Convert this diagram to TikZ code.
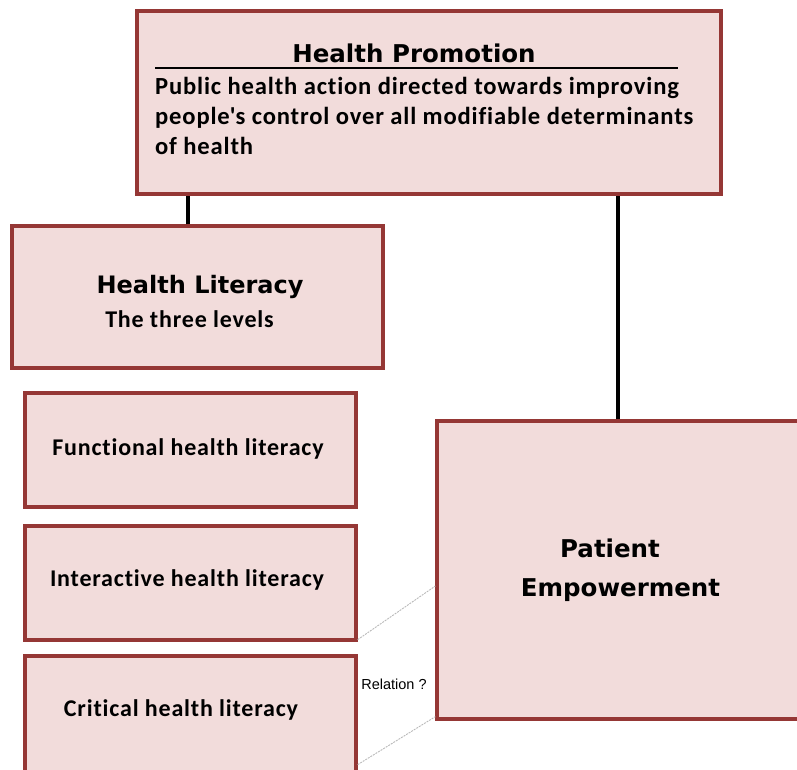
\documentclass[tikz,border=0pt]{standalone}
\usepackage{fontspec}
\setmainfont{Carlito}[LetterSpace=3.4,Ligatures={NoCommon,TeX}]
\newfontfamily\headfont{DejaVu Sans}
\newfontfamily\notefont{Liberation Sans}
\usetikzlibrary{positioning}
\definecolor{boxline}{RGB}{149,55,53}
\definecolor{boxfill}{RGB}{242,220,219}

\begin{document}
\begin{tikzpicture}[x=1pt,y=-1pt,
    every node/.style={inner sep=0pt},
    box/.style={draw=boxline,fill=boxfill,line width=3.3pt,rectangle},
    head/.style={font=\headfont\bfseries\fontsize{24.5}{30}\selectfont},
    body/.style={font=\bfseries\fontsize{24}{30}\selectfont},
    link/.style={line width=4pt,black},
    relation/.style={gray!55,line width=0.9pt,dash pattern=on 2pt off 1pt}]
    \useasboundingbox (0,0) rectangle (797,769);
    \clip (0,0) rectangle (797,769);

    % boxes
    \node[box,minimum width=584pt,minimum height=183pt] (hp) at (429,102.5) {};
    \node[box,minimum width=371pt,minimum height=142pt] (hl) at (197.5,297) {};
    \node[box,minimum width=331pt,minimum height=114pt] (fhl) at (190.5,450) {};
    \node[box,minimum width=331pt,minimum height=114pt] (ihl) at (190.5,583) {};
    \node[box,minimum width=331pt,minimum height=118pt] (chl) at (190.5,715) {};
    \node[box,minimum width=373pt,minimum height=298pt] (pe) at (623.5,570) {};

    % texts
    \node[head] (hptitle) at (414,53) {Health Promotion};
    \draw[line width=1.3pt] (155,68) -- (678,68);
    \node[body,font=\bfseries\fontsize{24.6}{30}\selectfont,align=left,anchor=north west] (hptext) at (155,77)
        {Public health action directed towards improving\\
         people\textquotesingle s control over all modifiable determinants\\
         of health};
    \node[head,font=\headfont\bfseries\fontsize{24}{30}\selectfont] (hltitle) at (200,287) {Health Literacy};
    \node[body] (hltext) at (189.5,319) {The three levels};
    \node[body] (fhltext) at (188,449) {Functional health literacy};
    \node[body] (ihltext) at (187,580) {Interactive health literacy};
    \node[body] (chltext) at (181,710) {Critical health literacy};
    \node[head,align=center] (petext) at (620.5,570.5) {Patient\hspace*{21pt}\\[9pt] Empowerment};
    \node[font=\notefont\fontsize{14.5}{16}\selectfont] (rel) at (394,684) {Relation ?};

    % connectors
    \draw[link] ([xshift=-9.5pt]hl.north) -- ([xshift=-9.5pt]hl.north |- hp.south);
    \draw[link] ([xshift=-5.5pt]pe.north) -- ([xshift=-5.5pt]pe.north |- hp.south);
    \draw[relation] ([yshift=2pt]ihl.south east) -- ([yshift=-16pt]pe.west);
    \draw[relation] ([yshift=11pt]chl.south east) -- ([yshift=4pt]pe.south west);
\end{tikzpicture}
\end{document}
